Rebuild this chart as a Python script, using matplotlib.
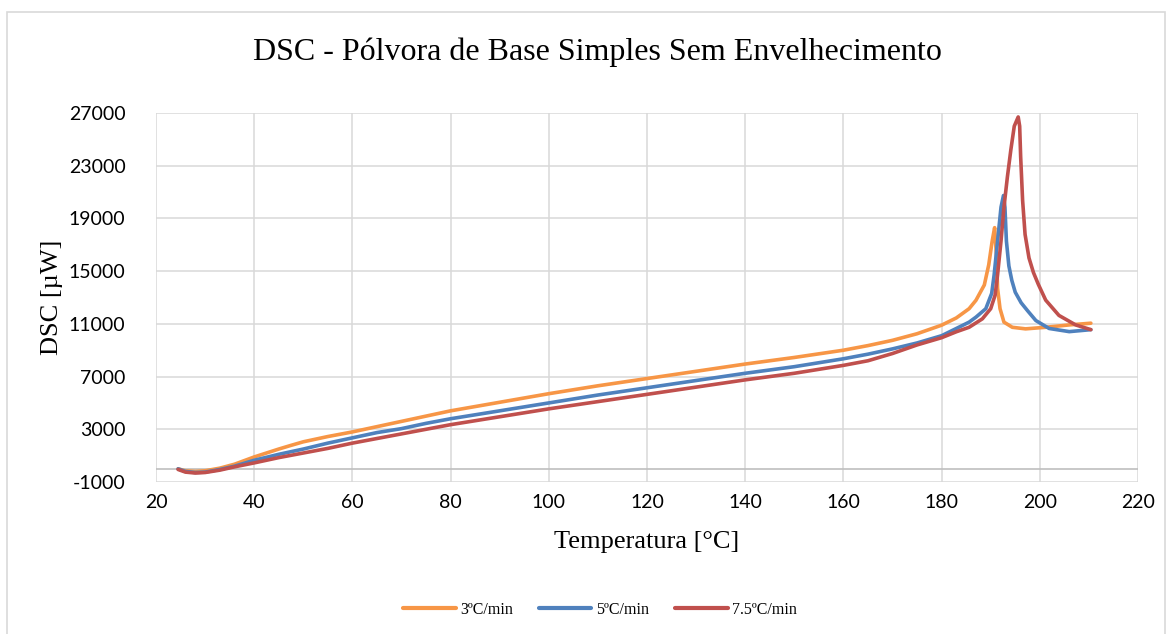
import matplotlib
matplotlib.use("Agg")
import matplotlib.pyplot as plt
from matplotlib.patches import Rectangle

plt.rcParams["axes.unicode_minus"] = False

# ---- data ----
temp_3 = [24.5, 26, 28, 30, 33, 36, 40, 42.5, 45, 47.5, 50, 55, 60, 65, 70, 75, 80, 90, 100, 110,
          120, 130, 140, 150, 160, 165, 170, 175, 180, 183, 185.6, 187.0, 188.7, 189.6, 190.3,
          190.8, 191.2, 191.4, 191.9, 192.7, 194.4, 197.1, 201.2, 206.0, 210.4]
dsc_3 = [0, -150, -200, -150, 50, 350, 900, 1200, 1500, 1780, 2050, 2450, 2800, 3200, 3600, 4000,
         4400, 5050, 5700, 6300, 6850, 7400, 7950, 8450, 9000, 9350, 9750, 10250, 10900, 11450,
         12150, 12790, 13950, 15480, 17280, 18300, 16000, 13690, 12150, 11130, 10740, 10620,
         10740, 10920, 11050]

temp_5 = [24.5, 26, 28, 30, 33, 36, 40, 45, 50, 55, 60, 65, 70, 75, 80, 90, 100, 110, 120, 130,
          140, 150, 160, 165, 170, 175, 180, 183, 185.6, 187.0, 189.0, 190.2, 190.7, 191.4, 192.1,
          192.6, 192.9, 193.2, 193.7, 194.3, 195.0, 196.2, 197.5, 199.2, 201.9, 206.0, 210.4]
dsc_5 = [0, -200, -280, -250, -50, 200, 650, 1100, 1500, 1950, 2350, 2750, 3050, 3450, 3800, 4400,
         5000, 5600, 6150, 6700, 7250, 7750, 8350, 8700, 9100, 9550, 10100, 10650, 11130, 11510,
         12150, 13310, 14720, 17280, 19850, 20740, 19850, 17280, 15400, 14300, 13400, 12600,
         12000, 11250, 10650, 10410, 10560]

temp_75 = [24.5, 26, 28, 30, 33, 36, 40, 45, 50, 55, 60, 65, 70, 75, 80, 90, 100, 110, 120, 130,
           140, 150, 160, 165, 170, 175, 180, 183, 185.6, 188.3, 190.0, 190.9, 191.4, 192.1, 192.7,
           193.4, 194.1, 194.8, 195.6, 195.9, 196.1, 196.5, 197.0, 197.8, 198.7, 199.7, 201.2,
           203.9, 207.3, 210.4]
dsc_75 = [-50, -250, -320, -280, -100, 150, 450, 850, 1200, 1550, 1950, 2300, 2650, 3000, 3350,
          3950, 4550, 5100, 5650, 6200, 6750, 7250, 7850, 8200, 8750, 9400, 9950, 10400, 10740,
          11380, 12150, 13180, 14720, 17280, 19850, 22150, 24200, 26000, 26700, 26000, 23690,
          20360, 17790, 16000, 14900, 14000, 12800, 11640, 10920, 10560]

series_labels = ["3ºC/min", "5ºC/min", "7.5ºC/min"]
series_colors = ["#F79646", "#4F81BD", "#C0504D"]

x_ticks = [20, 40, 60, 80, 100, 120, 140, 160, 180, 200, 220]
y_ticks = [-1000, 3000, 7000, 11000, 15000, 19000, 23000, 27000]

title = "DSC - Pólvora de Base Simples Sem Envelhecimento"
xlabel = "Temperatura [°C]"
ylabel = "DSC [µW]"

# ---- figure ----
W, H = 1172, 634
fig = plt.figure(figsize=(W / 100, H / 100), dpi=100)
ax = fig.add_axes([156 / W, 1 - 482 / H, (1138 - 156) / W, (482 - 113) / H])

serif = "Liberation Serif"
sans = "Lato"

for t, d, lab, col in zip([temp_3, temp_5, temp_75], [dsc_3, dsc_5, dsc_75],
                          series_labels, series_colors):
    ax.plot(t, d, color=col, lw=2.6, label=lab, solid_capstyle="round",
            solid_joinstyle="round", zorder=3)

ax.set_xlim(20, 220)
ax.set_ylim(-1000, 27000)
ax.set_xticks(x_ticks)
ax.set_yticks(y_ticks)
ax.grid(True, color="#D9D9D9", lw=1.1, zorder=0)
ax.set_axisbelow(True)
for s in ax.spines.values():
    s.set_visible(False)
ax.axhline(0, color="#BFBFBF", lw=1.2, zorder=1)
ax.tick_params(axis="both", length=0, labelsize=14, colors="black")
ax.tick_params(axis="x", pad=9)
ax.tick_params(axis="y", pad=22)
for lbl in ax.get_xticklabels() + ax.get_yticklabels():
    lbl.set_family(sans)

ax.set_xlabel(xlabel, family=serif, fontsize=19, labelpad=14)
ax.set_ylabel(ylabel, family=serif, fontsize=19, labelpad=4)
fig.text(597 / W, 1 - 52 / H, title, family=serif, fontsize=23, ha="center", va="center")

leg = fig.legend(loc="center", bbox_to_anchor=(600 / W, 1 - 610 / H), ncol=3, frameon=False,
                 prop={"family": serif, "size": 11.5}, handlelength=3.3, columnspacing=1.6,
                 handletextpad=0.3)
for h in leg.get_lines():
    h.set_linewidth(3)

fig.patches.append(Rectangle((7 / W, -0.05), (1165 - 7) / W, 1 - 12 / H + 0.05,
                             transform=fig.transFigure, fill=False, edgecolor="#D9D9D9", lw=1.2))

fig.savefig("out.png", dpi=100)
